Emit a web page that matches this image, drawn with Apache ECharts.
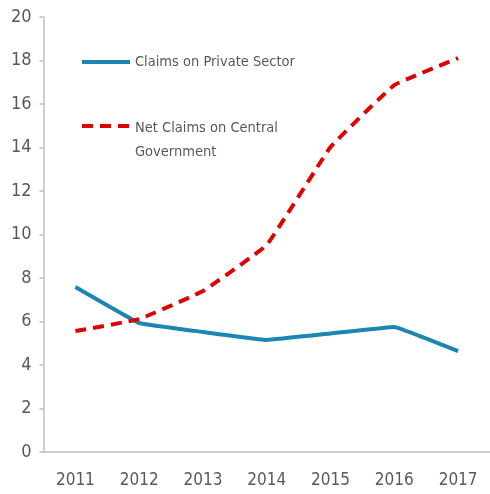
<!DOCTYPE html>
<html><head><meta charset="utf-8">
<script src="https://cdn.jsdelivr.net/npm/echarts@6/dist/echarts.min.js"></script>
<style>html,body{margin:0;padding:0;background:#fff}#c{width:490px;height:494px}</style>
</head><body><div id="c"></div>
<script>
const years = ['2011','2012','2013','2014','2015','2016','2017'];
const privateSector = [7.59, 5.93, 5.52, 5.15, 5.45, 5.75, 4.64];
const centralGov = [5.56, 6.11, 7.4, 9.52, 14.02, 16.87, 18.11];
const seriesNames = ['Claims on Private Sector', 'Net Claims on Central Government'];
const FONT = "'Liberation Sans Narrow','DejaVu Sans Condensed',sans-serif";
const legendText = {fontFamily: FONT, fontSize: 14.5, color: '#595959', lineHeight: 24};
const chart = echarts.init(document.getElementById('c'));
chart.setOption({
  animation: false,
  grid: {left: 43.5, right: 0, top: 17, bottom: 42, containLabel: false},
  legend: [
    {
      orient: 'vertical', left: 75, top: 45, itemWidth: 48, itemHeight: 14,
      data: [seriesNames[0]],
      itemStyle: {opacity: 0}, lineStyle: {width: 4},
      textStyle: legendText
    },
    {
      orient: 'vertical', left: 75, top: 83, itemWidth: 48, itemHeight: 14,
      data: [seriesNames[1]],
      itemStyle: {opacity: 0}, lineStyle: {width: 4},
      formatter: () => '{s| }\n{a|Net Claims on Central}\n{a|Government}',
      textStyle: Object.assign({}, legendText, {
        rich: {
          s: {fontSize: 10, lineHeight: 28},
          a: {fontFamily: FONT, fontSize: 14.5, color: '#595959', lineHeight: 24}
        }
      })
    }
  ],
  xAxis: {
    type: 'category', data: years, boundaryGap: true,
    axisLine: {lineStyle: {color: '#bfbfbf', width: 1.5}},
    axisTick: {inside: true, length: 9, lineStyle: {color: '#bfbfbf', width: 1.5}},
    axisLabel: {fontFamily: FONT, fontSize: 17, color: '#595959', margin: 20},
    splitLine: {show: false}
  },
  yAxis: {
    type: 'value', min: 0, max: 20, interval: 2,
    axisLine: {show: true, lineStyle: {color: '#bfbfbf', width: 1.5}},
    axisTick: {show: true, length: 4, lineStyle: {color: '#bfbfbf', width: 1.5}},
    axisLabel: {fontFamily: FONT, fontSize: 18, color: '#595959', margin: 12},
    splitLine: {show: false}
  },
  series: [
    {name: seriesNames[0], type: 'line', data: privateSector, symbol: 'none', smooth: 0.05,
     lineStyle: {color: '#1a86b3', width: 4, join: 'round'}, itemStyle: {color: '#1a86b3'}},
    {name: seriesNames[1], type: 'line', data: centralGov, symbol: 'none', smooth: 0.08,
     lineStyle: {color: '#e00000', width: 4, type: [11, 7], join: 'round'}, itemStyle: {color: '#e00000'}}
  ]
});
</script></body></html>
